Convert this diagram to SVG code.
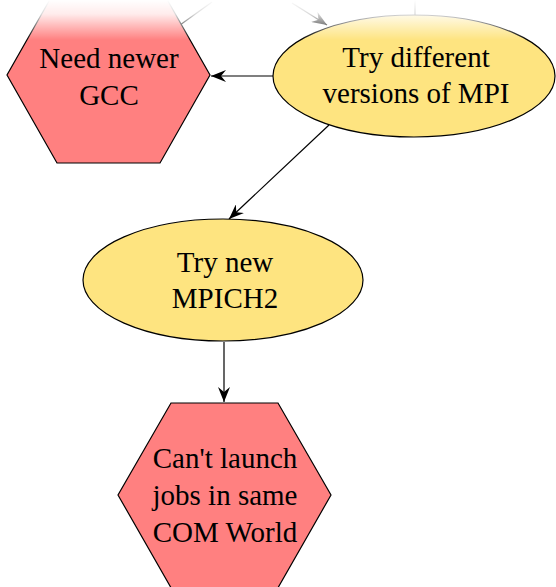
<svg xmlns="http://www.w3.org/2000/svg" width="556" height="587" viewBox="0 0 556 587">
<style>
.hex{fill:#ff8080;stroke:#000;stroke-width:1.2}
.ell{fill:#fee480;stroke:#000;stroke-width:1.2}
.lbl{font-family:"Liberation Serif","Times New Roman",serif;font-size:29px;fill:#000;text-anchor:middle}
.edge{fill:none;stroke:#000;stroke-width:1.2}
</style>
<defs>
<marker id="arr" markerWidth="16" markerHeight="12" refX="15" refY="6" orient="auto" markerUnits="userSpaceOnUse">
<path d="M0,0 L15,6 L0,12 L5,6 Z" fill="#000"/>
</marker>
<linearGradient id="fade" x1="0" y1="0" x2="0" y2="1">
<stop offset="0" stop-color="#fff" stop-opacity="1"/>
<stop offset="0.35" stop-color="#fff" stop-opacity="0.85"/>
<stop offset="1" stop-color="#fff" stop-opacity="0"/>
</linearGradient>
</defs>
<rect width="556" height="587" fill="#fff"/>
<g id="edges">
<line class="edge" x1="180" y1="25" x2="212" y2="2" stroke="#555"/>
<line class="edge" x1="292" y1="3" x2="327" y2="25" marker-end="url(#arr)"/>
<line class="edge" x1="415" y1="0" x2="415" y2="15"/>
<line class="edge" x1="273" y1="76" x2="211" y2="76" stroke="#444" marker-end="url(#arr)"/>
<line class="edge" x1="329" y1="125" x2="229" y2="219" marker-end="url(#arr)"/>
<line class="edge" x1="224" y1="342" x2="224" y2="402" marker-end="url(#arr)"/>
</g>
<g id="n_gcc">
<polygon class="hex" points="57,-13 160,-13 210,75 160,163 57,163 7,75"/>
<text class="lbl" x="109" y="68">Need newer</text>
<text class="lbl" x="109" y="105">GCC</text>
</g>
<g id="n_mpi">
<ellipse class="ell" cx="414" cy="76" rx="141" ry="61"/>
<text class="lbl" x="416" y="67">Try different</text>
<text class="lbl" x="416" y="103">versions of MPI</text>
</g>
<g id="n_mpich2">
<ellipse class="ell" cx="223" cy="280" rx="140" ry="61"/>
<text class="lbl" x="225" y="272">Try new</text>
<text class="lbl" x="225" y="308">MPICH2</text>
</g>
<g id="n_com">
<polygon class="hex" points="171,403 278,403 331,495 275,593 174,593 118,495"/>
<text class="lbl" x="225" y="468">Can't launch</text>
<text class="lbl" x="225" y="505">jobs in same</text>
<text class="lbl" x="225" y="542">COM World</text>
</g>
<rect x="0" y="0" width="556" height="40" fill="url(#fade)"/>
</svg>
